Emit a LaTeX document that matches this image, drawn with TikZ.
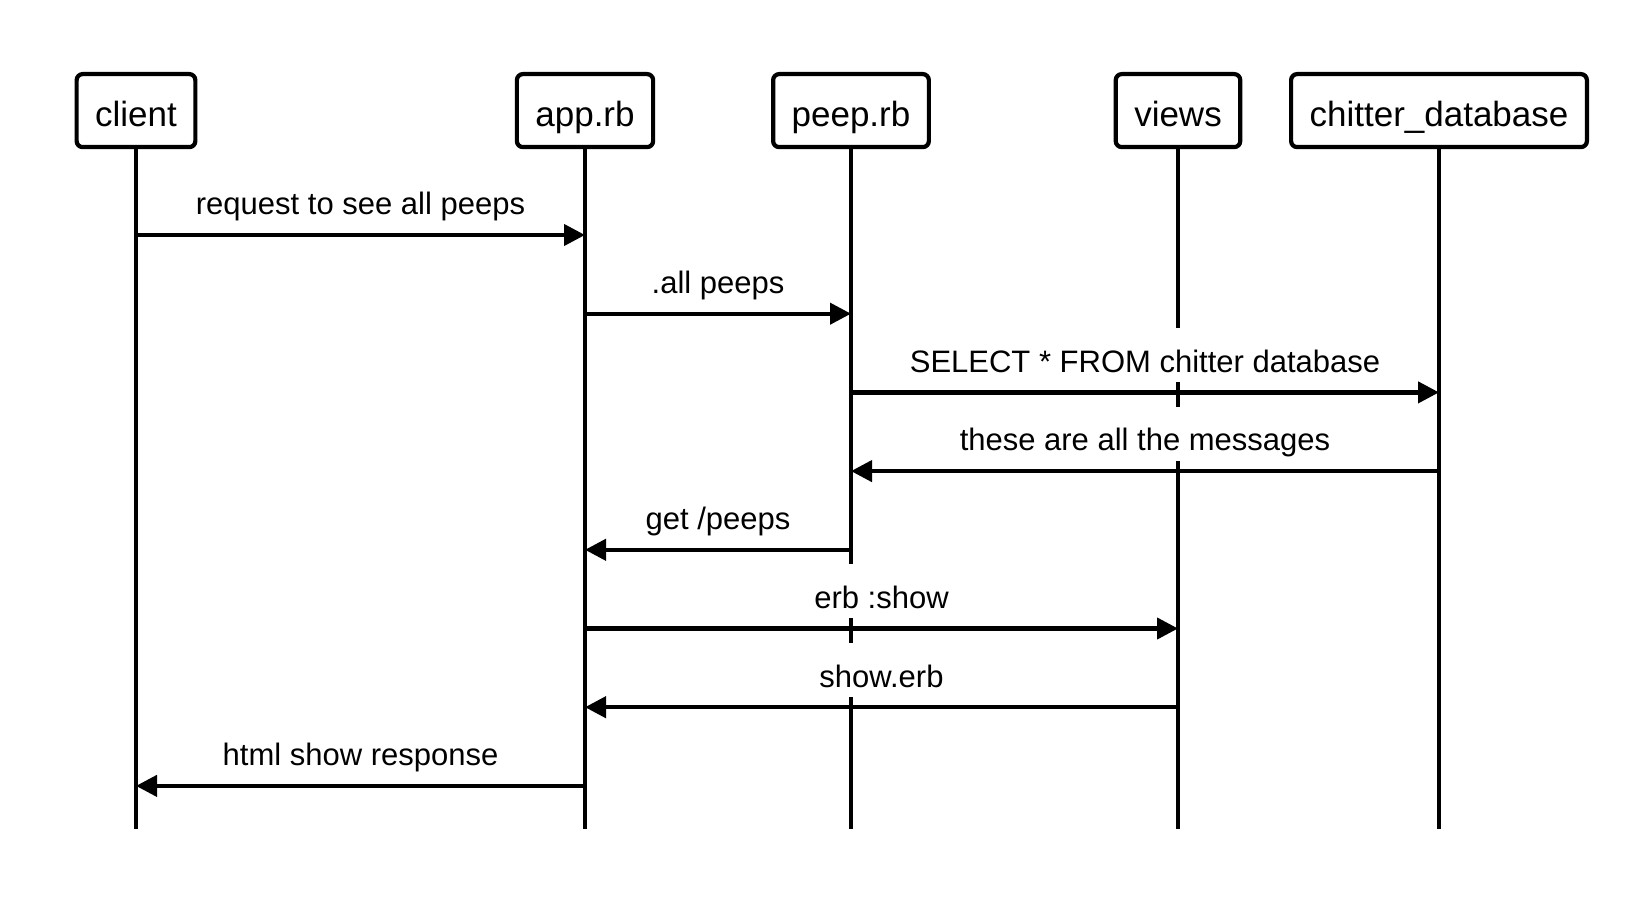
\documentclass[tikz,border=0pt]{standalone}
\usepackage{fontspec}
\setmainfont{Liberation Sans}
\usetikzlibrary{arrows.meta,positioning}

\tikzset{
  actor/.style={draw, line width=4.2pt, rounded corners=6pt, inner ysep=0pt,
    text height=52.5pt, text depth=20.5pt, inner xsep=18.5pt,
    font=\fontsize{35}{42}\selectfont},
  lifeline/.style={line width=3.2pt},
  msg/.style={line width=4.2pt, -{Triangle[length=21pt,width=21pt]}},
  msglabel/.style={above=8.3pt, fill=white, inner ysep=0pt, inner xsep=6pt,
    text height=43.9pt, text depth=9.8pt, font=\fontsize{31}{37}\selectfont}
}

\begin{document}
\begin{tikzpicture}[x=1pt,y=-1pt]
  \useasboundingbox (0,0) rectangle (1652,904);
  % participants
  \node[actor] (client) at (136,110.6) {client};
  \node[actor] (app) at (585,110.6) {app.rb};
  \node[actor] (peep) at (851,110.6) {peep.rb};
  \node[actor] (views) at (1178,110.6) {views};
  \node[actor] (db) at (1439,110.6) {chitter\_database};
  % lifelines and message rows
  \foreach \n in {client,app,peep,views,db}{
    \coordinate (\n-end) at (\n.south |- 0,829);
    \draw[lifeline] (\n.south) -- (\n-end);
    \foreach \i [evaluate=\i as \y using 156.3+78.7*\i] in {1,...,8}
      \coordinate (\n-\i) at (\n.south |- 0,\y);
  }
  % messages
  \draw[msg] (client-1) -- node[msglabel] {request to see all peeps} (app-1);
  \draw[msg] (app-2) -- node[msglabel] {.all peeps} (peep-2);
  \draw[msg] (peep-3) -- node[msglabel] {SELECT * FROM chitter database} (db-3);
  \draw[msg] (db-4) -- node[msglabel] {these are all the messages} (peep-4);
  \draw[msg] (peep-5) -- node[msglabel] {get /peeps} (app-5);
  \draw[msg] (app-6) -- node[msglabel] {erb :show} (views-6);
  \draw[msg] (views-7) -- node[msglabel] {show.erb} (app-7);
  \draw[msg] (app-8) -- node[msglabel] {html show response} (client-8);
\end{tikzpicture}
\end{document}
